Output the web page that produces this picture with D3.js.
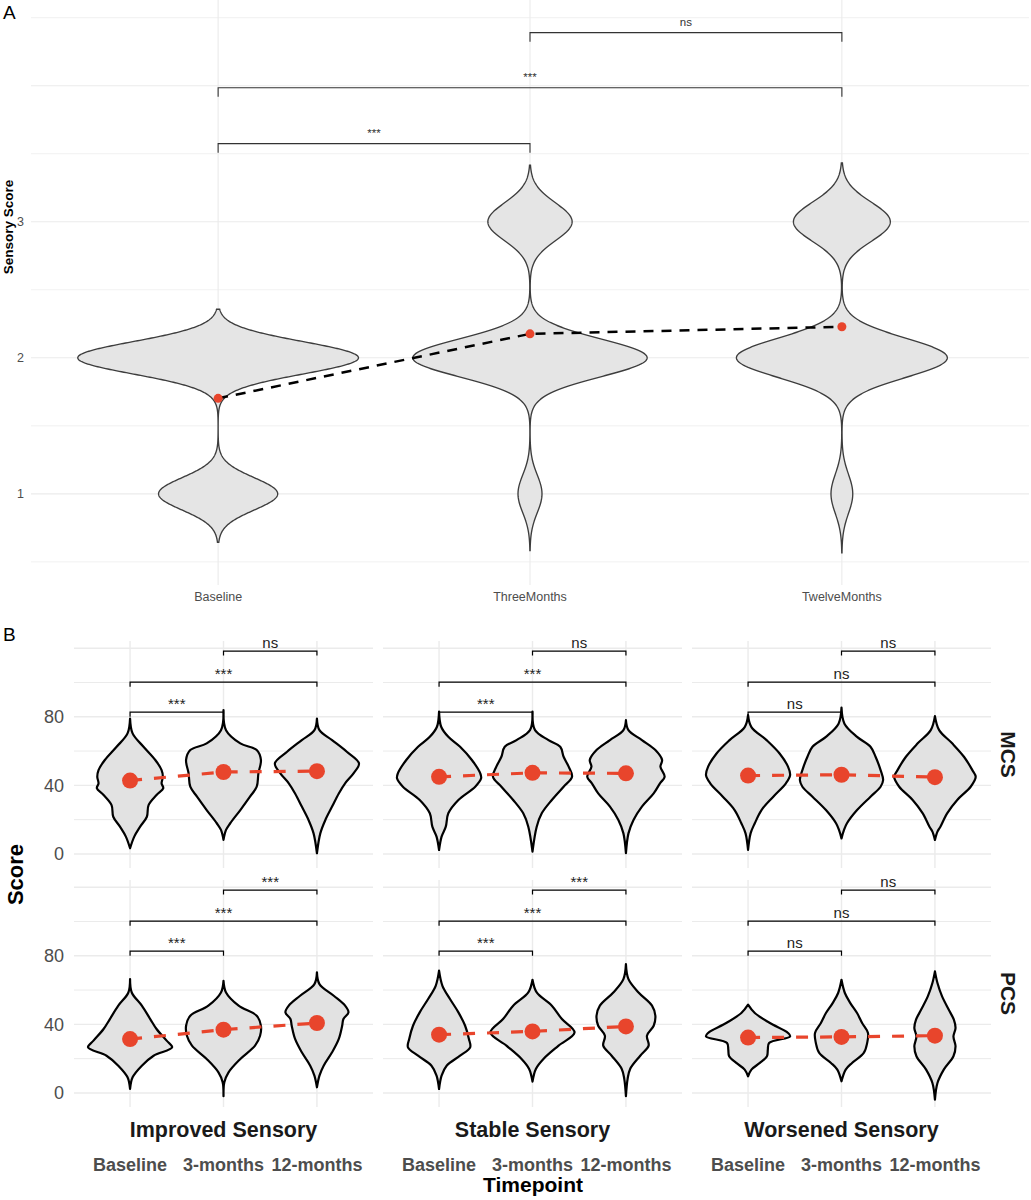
<!DOCTYPE html>
<html>
<head>
<meta charset="utf-8">
<script src="https://cdn.jsdelivr.net/npm/d3@7"></script>
<style>
body { margin: 0; background: #fff; }
svg { display: block; font-family: "Liberation Sans", Arial, Helvetica, sans-serif; }
</style>
</head>
<body>
<svg id="fig" width="1031" height="1200"></svg>
<script>
// ---------- panel A : sensory score ----------
var timepointsA = ["Baseline", "ThreeMonths", "TwelveMonths"];
var scoreLevels = [1, 2, 3];
// number of patients at each score (1,2,3) per timepoint
var countsA = [[149, 351, 0], [35, 342, 123], [33, 320, 147]];
var ticksA = [1, 2, 3];
var bracketPairsA = [[0, 1], [0, 2], [1, 2]];
var bracketYA = [3.574, 3.985, 4.39];
var bracketLabA = ["***", "***", "ns"];

// ---------- panel B : SF-12 scores ----------
var groups = ["Improved Sensory", "Stable Sensory", "Worsened Sensory"];
var measures = ["MCS", "PCS"];
var timepointsB = ["Baseline", "3-months", "12-months"];
var ticksB = [0, 40, 80];

var meansMCS = [[42.8, 47.8, 48.3], [45.0, 47.3, 47.0], [45.7, 46.2, 44.8]];
var meansPCS = [[31.4, 36.9, 40.8], [34.0, 35.9, 38.8], [32.3, 32.7, 33.4]];

var bracketPairsB = [[0, 1], [0, 2], [1, 2]];
var bracketYB = [82.7, 100.2, 118.3];
var labelsMCS = [["***", "***", "ns"], ["***", "***", "ns"], ["ns", "ns", "ns"]];
var labelsPCS = [["***", "***", "***"], ["***", "***", "***"], ["ns", "ns", "ns"]];

// violin profiles: [score, relative density] (1 = widest violin of the panel)
var densMCS = [
  [
    [[3.3,0],[10.1,0.1],[15.9,0.24],[21.7,0.4],[28.5,0.44],[34.4,0.63],[38.3,0.79],[41.2,0.75],[45,0.78],[48.9,0.75],[54.8,0.6],[62.5,0.32],[70.3,0.06],[79,0]],
    [[8.2,0],[14,0.06],[17.9,0.16],[25.6,0.4],[33.4,0.63],[39.2,0.79],[47,0.83],[54.8,0.89],[60.6,0.79],[64.5,0.4],[72.2,0.06],[83.9,0]],
    [[0.4,0],[12,0.08],[19.8,0.2],[27.6,0.36],[35.3,0.52],[41.2,0.67],[47,0.87],[52.8,1.0],[59.6,0.71],[66.4,0.36],[72.2,0.06],[79,0]]
  ],
  [
    [[2.3,0],[10.1,0.06],[15.9,0.16],[23.7,0.22],[31.5,0.46],[39.2,0.86],[44.1,1.0],[47,0.98],[54.8,0.78],[62.5,0.5],[68.3,0.22],[74.2,0.05],[83,0]],
    [[1.4,0],[15.9,0.1],[23.7,0.22],[31.5,0.46],[39.2,0.74],[45,0.94],[50.9,0.86],[56.7,0.74],[62.5,0.66],[66.4,0.38],[72.2,0.06],[83,0]],
    [[0.4,0],[12,0.06],[19.8,0.18],[27.6,0.38],[35.3,0.66],[41.2,0.81],[45,0.92],[50.9,0.82],[54.8,0.86],[60.6,0.7],[66.4,0.38],[72.2,0.06],[78,0]]
  ],
  [
    [[2.3,0],[12,0.06],[17.9,0.16],[25.6,0.32],[33.4,0.6],[41.2,0.9],[46,1.0],[50.9,0.95],[58.6,0.75],[66.4,0.44],[74,0.08],[81,0]],
    [[9.1,0],[14,0.06],[17.9,0.13],[25.6,0.37],[33.4,0.69],[39.2,0.93],[43.1,0.99],[48.9,0.93],[56.7,0.81],[62.5,0.69],[68.3,0.37],[76,0.07],[85.4,0]],
    [[8.2,0],[13,0.06],[15.9,0.13],[23.7,0.29],[31.5,0.53],[39.2,0.85],[45,0.97],[48.9,0.89],[56.7,0.69],[64.5,0.41],[72.2,0.1],[80.4,0]]
  ]
];
var densPCS = [
  [
    [[2.3,0],[9.1,0.06],[15.9,0.28],[21.7,0.56],[26.6,1.0],[30.5,0.87],[37.3,0.63],[43.1,0.48],[50.9,0.28],[58.6,0.04],[66.4,0]],
    [[-1.9,0],[6.2,0.02],[12,0.12],[19.8,0.4],[27.6,0.75],[33.4,0.87],[39.2,0.89],[45,0.79],[50.9,0.36],[58.6,0.06],[65.4,0]],
    [[3.3,0],[10.1,0.06],[15.9,0.16],[23.7,0.36],[31.5,0.52],[39.2,0.6],[43.1,0.63],[47,0.75],[50.9,0.67],[56.7,0.4],[63.5,0.06],[70.3,0]]
  ],
  [
    [[2.3,0],[10.1,0.06],[15.9,0.18],[21.7,0.5],[26.6,0.74],[31.5,0.71],[39.2,0.62],[47,0.46],[54.8,0.26],[62.5,0.08],[71.3,0]],
    [[6.6,0],[14,0.08],[19.8,0.26],[27.6,0.62],[35.3,1.0],[43.1,0.7],[50.9,0.46],[58.6,0.1],[66,0]],
    [[-1.9,0],[8.2,0.04],[14,0.1],[21.7,0.34],[27.6,0.54],[33.4,0.5],[39.2,0.66],[45,0.7],[50.9,0.62],[58.6,0.3],[66.4,0.06],[75.1,0]]
  ],
  [
    [[9.7,0],[13.6,0.08],[17.5,0.28],[21.4,0.45],[25.2,0.47],[29.1,0.5],[33,1.0],[35,0.95],[40.8,0.52],[46.6,0.16],[51.5,0]],
    [[6.8,0],[13.6,0.1],[17.5,0.25],[23.3,0.53],[29.1,0.61],[35,0.63],[40.8,0.49],[46.6,0.37],[52.4,0.21],[58.3,0.08],[66,0]],
    [[-3.9,0],[5.8,0.06],[13.6,0.21],[21.4,0.44],[27.2,0.49],[33,0.44],[37.9,0.49],[42.7,0.45],[48.5,0.33],[56.3,0.17],[64.1,0.06],[70.9,0]]
  ]
];

var RED = "#E8452C";
var GRID = "#ebebeb";
var svg = d3.select("#fig");

/* gaussian kernel density like R density(), bw.nrd0, cut = 3 */
function kde(counts) {
  var raw = [];
  counts.forEach(function (c, i) { for (var j = 0; j < c; j++) raw.push(scoreLevels[i]); });
  var sd = d3.deviation(raw);
  var iqr = d3.quantile(raw, 0.75) - d3.quantile(raw, 0.25);
  var lo = Math.min(sd, iqr / 1.34);
  if (!lo) lo = sd;
  var bw = 0.9 * lo * Math.pow(raw.length, -0.2);
  var a = d3.min(raw) - 3 * bw, b = d3.max(raw) + 3 * bw;
  return d3.range(512).map(function (k) {
    var v = a + (b - a) * k / 511;
    var s = d3.sum(counts, function (c, i) {
      var z = (v - scoreLevels[i]) / bw;
      return c * Math.exp(-0.5 * z * z);
    });
    return [v, s / (raw.length * bw * Math.sqrt(2 * Math.PI))];
  });
}

// ================= PANEL A =================
var xA = d3.scalePoint().domain(timepointsA).range([31, 1029]).padding(0.6);
var yA = d3.scaleLinear().domain([0.33, 4.63]).range([585, 0]);
var gA = svg.append("g");

gA.selectAll(".hg").data(d3.range(0.5, 4.51, 0.5)).enter().append("line")
  .attr("x1", 31).attr("x2", 1029)
  .attr("y1", function (d) { return yA(d); }).attr("y2", function (d) { return yA(d); })
  .attr("stroke", GRID).attr("stroke-width", function (d) { return d % 1 === 0 ? 1.1 : 0.7; });
gA.selectAll(".vg").data(timepointsA).enter().append("line")
  .attr("x1", function (d) { return xA(d); }).attr("x2", function (d) { return xA(d); })
  .attr("y1", 0).attr("y2", 585)
  .attr("stroke", GRID).attr("stroke-width", 1.1);

var densA = countsA.map(kde);
var maxA = d3.max(densA, function (d) { return d3.max(d, function (p) { return p[1]; }); });
var wA = d3.scaleLinear().domain([0, maxA]).range([0, 0.45 * xA.step()]);

densA.forEach(function (dens, i) {
  var cx = xA(timepointsA[i]);
  gA.append("path").datum(dens)
    .attr("d", d3.area()
      .y(function (d) { return yA(d[0]); })
      .x0(function (d) { return cx - wA(d[1]); })
      .x1(function (d) { return cx + wA(d[1]); }))
    .attr("fill", "#e5e5e5").attr("stroke", "#3d3d3d").attr("stroke-width", 1.35);
});

bracketPairsA.forEach(function (p, i) {
  var x1 = xA(timepointsA[p[0]]), x2 = xA(timepointsA[p[1]]), y = yA(bracketYA[i]);
  gA.append("path")
    .attr("d", "M" + x1 + "," + (y + 9) + "V" + y + "H" + x2 + "V" + (y + 9))
    .attr("fill", "none").attr("stroke", "#333").attr("stroke-width", 1.1);
  gA.append("text").attr("x", (x1 + x2) / 2).attr("y", y - 7)
    .attr("text-anchor", "middle").attr("font-size", 11.5).attr("fill", "#333")
    .text(bracketLabA[i]);
});

var meanA = countsA.map(function (c) {
  return d3.sum(c, function (n, i) { return n * scoreLevels[i]; }) / d3.sum(c);
});
gA.append("path").datum(meanA)
  .attr("d", d3.line()
    .x(function (d, i) { return xA(timepointsA[i]); })
    .y(function (d) { return yA(d); }))
  .attr("fill", "none").attr("stroke", "#000").attr("stroke-width", 2.5)
  .attr("stroke-dasharray", "10,8");
gA.selectAll(".mA").data(meanA).enter().append("circle")
  .attr("cx", function (d, i) { return xA(timepointsA[i]); })
  .attr("cy", function (d) { return yA(d); })
  .attr("r", 4.5).attr("fill", RED);

gA.selectAll(".ty").data(ticksA).enter().append("text")
  .attr("x", 24).attr("y", function (d) { return yA(d); }).attr("dy", "0.35em")
  .attr("text-anchor", "end").attr("font-size", 12.5).attr("fill", "#4d4d4d")
  .text(function (d) { return d; });
gA.selectAll(".tx").data(timepointsA).enter().append("text")
  .attr("x", function (d) { return xA(d); }).attr("y", 601)
  .attr("text-anchor", "middle").attr("font-size", 12.5).attr("fill", "#4d4d4d")
  .text(function (d) { return d; });
gA.append("text").attr("transform", "translate(8,227) rotate(-90)")
  .attr("text-anchor", "middle").attr("dominant-baseline", "central")
  .attr("font-size", 13.5).attr("font-weight", "bold").text("Sensory Score");
svg.append("text").attr("x", 3).attr("y", 19).attr("font-size", 19).text("A");

// ================= PANEL B =================
var panelW = 299, panelH = 227;
var colLeft = [74, 383, 692], rowTop = [641, 880];
var yB = d3.scaleLinear().domain([-8.2, 124.2]).range([panelH, 0]);
var xB = d3.scalePoint().domain(timepointsB).range([0, panelW]).padding(0.6);
var wB = d3.scaleLinear().domain([0, 1]).range([0, 0.45 * xB.step()]);

var violinB = d3.area().curve(d3.curveCatmullRom.alpha(0.5));

measures.forEach(function (m, r) {
  var dens = r === 0 ? densMCS : densPCS;
  var means = r === 0 ? meansMCS : meansPCS;
  var labs = r === 0 ? labelsMCS : labelsPCS;

  groups.forEach(function (gname, c) {
    var g = svg.append("g").attr("transform", "translate(" + colLeft[c] + "," + rowTop[r] + ")");

    g.selectAll(".hg").data(d3.range(0, 121, 20)).enter().append("line")
      .attr("x1", 0).attr("x2", panelW)
      .attr("y1", function (d) { return yB(d); }).attr("y2", function (d) { return yB(d); })
      .attr("stroke", GRID).attr("stroke-width", function (d) { return d % 40 === 0 ? 1.4 : 1; });
    g.selectAll(".vg").data(timepointsB).enter().append("line")
      .attr("x1", function (d) { return xB(d); }).attr("x2", function (d) { return xB(d); })
      .attr("y1", 0).attr("y2", panelH)
      .attr("stroke", GRID).attr("stroke-width", 1.4);

    dens[c].forEach(function (prof, t) {
      var cx = xB(timepointsB[t]);
      g.append("path").datum(prof)
        .attr("d", violinB
          .y(function (d) { return yB(d[0]); })
          .x0(function (d) { return cx - wB(d[1]); })
          .x1(function (d) { return cx + wB(d[1]); }))
        .attr("fill", "#e2e2e2").attr("stroke", "#000").attr("stroke-width", 2.2)
        .attr("stroke-linejoin", "round");
    });

    bracketPairsB.forEach(function (p, i) {
      var x1 = xB(timepointsB[p[0]]), x2 = xB(timepointsB[p[1]]), y = yB(bracketYB[i]);
      g.append("path")
        .attr("d", "M" + x1 + "," + (y + 4.5) + "V" + y + "H" + x2 + "V" + (y + 4.5))
        .attr("fill", "none").attr("stroke", "#000").attr("stroke-width", 1.2);
      g.append("text").attr("x", (x1 + x2) / 2).attr("y", y - 3)
        .attr("text-anchor", "middle").attr("font-size", 15).attr("fill", "#222")
        .text(labs[c][i]);
    });

    g.append("path").datum(means[c])
      .attr("d", d3.line()
        .x(function (d, i) { return xB(timepointsB[i]); })
        .y(function (d) { return yB(d); }))
      .attr("fill", "none").attr("stroke", RED).attr("stroke-width", 3.2)
      .attr("stroke-dasharray", "12,12");
    g.selectAll(".mB").data(means[c]).enter().append("circle")
      .attr("cx", function (d, i) { return xB(timepointsB[i]); })
      .attr("cy", function (d) { return yB(d); })
      .attr("r", 8).attr("fill", RED);

    if (c === 0) {
      g.selectAll(".ty").data(ticksB).enter().append("text")
        .attr("x", -10).attr("y", function (d) { return yB(d); }).attr("dy", "0.35em")
        .attr("text-anchor", "end").attr("font-size", 18).attr("fill", "#4d4d4d")
        .text(function (d) { return d; });
    }
    if (r === 1) {
      g.append("text").attr("x", panelW / 2).attr("y", 1137 - rowTop[r])
        .attr("text-anchor", "middle").attr("font-size", 21.5).attr("font-weight", "bold")
        .attr("fill", "#1a1a1a").text(gname);
      g.selectAll(".tx").data(timepointsB).enter().append("text")
        .attr("x", function (d) { return xB(d); }).attr("y", 1171 - rowTop[r])
        .attr("text-anchor", "middle").attr("font-size", 18).attr("font-weight", "bold")
        .attr("fill", "#4d4d4d").text(function (d) { return d; });
    }
  });

  svg.append("text")
    .attr("transform", "translate(1008," + (rowTop[r] + panelH / 2) + ") rotate(90)")
    .attr("text-anchor", "middle").attr("dominant-baseline", "central")
    .attr("font-size", 21).attr("font-weight", "bold").attr("fill", "#1a1a1a").text(m);
});

svg.append("text").attr("transform", "translate(15,874.5) rotate(-90)")
  .attr("text-anchor", "middle").attr("dominant-baseline", "central")
  .attr("font-size", 22).attr("font-weight", "bold").text("Score");
svg.append("text").attr("x", 533).attr("y", 1192)
  .attr("text-anchor", "middle").attr("font-size", 21).attr("font-weight", "bold")
  .text("Timepoint");
svg.append("text").attr("x", 3).attr("y", 641).attr("font-size", 19).text("B");
</script>
</body>
</html>
